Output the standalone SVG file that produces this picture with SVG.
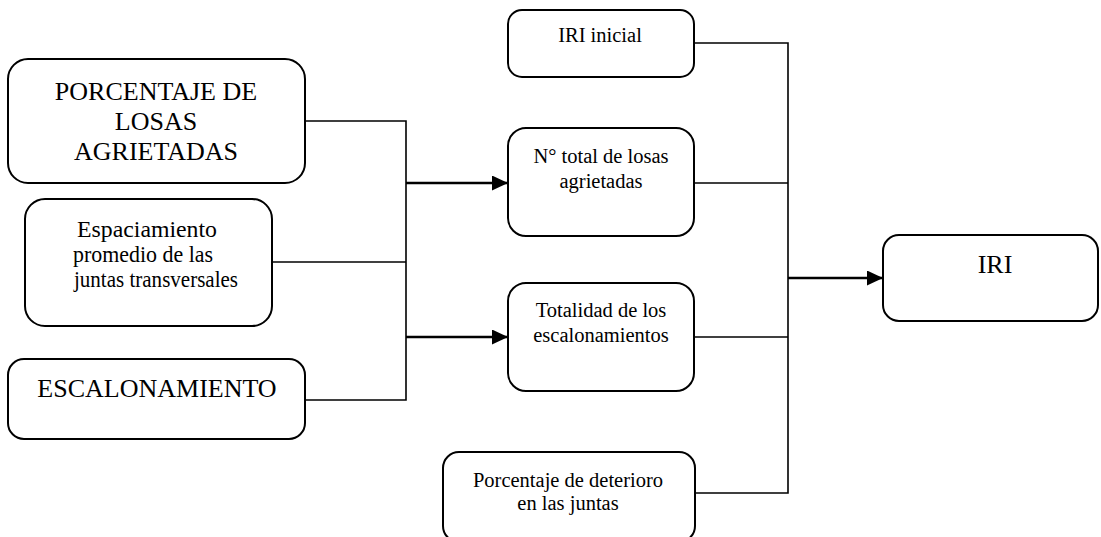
<svg xmlns="http://www.w3.org/2000/svg" width="1101" height="537" viewBox="0 0 1101 537">
  <defs>
    <marker id="arrow" markerWidth="16" markerHeight="15" refX="16" refY="7.5" orient="auto" markerUnits="userSpaceOnUse">
      <path d="M0,0 L16,7.5 L0,15 Z" fill="#000"/>
    </marker>
  </defs>
  <style>
    .box { fill: #fff; stroke: #000; stroke-width: 2; }
    .txt { fill: #000; text-anchor: middle; }
    .big { font-size: 26px; }
    .mid { font-size: 23px; }
    .sm { font-size: 20.5px; }
    .wire { fill: none; stroke: #000; stroke-width: 1.6; }
    .feed { fill: none; stroke: #000; stroke-width: 2.4; }
  </style>
  <rect width="1101" height="537" fill="#fff"/>

  <!-- connectors -->
  <g id="connectors">
    <!-- left inputs merge on x=406 -->
    <polyline class="wire" points="305,121 406,121 406,400 305,400"/>
    <line class="wire" x1="272" y1="262" x2="406" y2="262"/>
    <line class="feed" x1="406" y1="183" x2="508" y2="183" marker-end="url(#arrow)"/>
    <line class="feed" x1="406" y1="337" x2="508" y2="337" marker-end="url(#arrow)"/>
    <!-- middle column merges on x=788 -->
    <polyline class="wire" points="694,43 788,43 788,493 695,493"/>
    <line class="wire" x1="694" y1="183" x2="788" y2="183"/>
    <line class="wire" x1="694" y1="337" x2="788" y2="337"/>
    <line class="feed" x1="788" y1="278" x2="883" y2="278" marker-end="url(#arrow)"/>
  </g>

  <g font-family="'Liberation Serif', 'Times New Roman', 'DejaVu Serif', serif">
  <g id="porcentaje-losas">
    <rect class="box" x="8" y="59" width="297" height="124" rx="20"/>
    <text class="txt big" x="156" y="100">PORCENTAJE DE</text>
    <text class="txt big" x="156" y="130">LOSAS</text>
    <text class="txt big" x="156" y="160">AGRIETADAS</text>
  </g>

  <g id="espaciamiento">
    <rect class="box" x="25" y="199" width="247" height="127" rx="20"/>
    <text class="txt mid" x="147" y="237" textLength="140" lengthAdjust="spacingAndGlyphs">Espaciamiento</text>
    <text class="txt mid" x="143" y="262" textLength="140" lengthAdjust="spacingAndGlyphs">promedio de las</text>
    <text class="txt mid" x="156" y="287" textLength="164" lengthAdjust="spacingAndGlyphs">juntas transversales</text>
  </g>

  <g id="escalonamiento">
    <rect class="box" x="8" y="359" width="297" height="80" rx="16"/>
    <text class="txt big" x="157" y="397">ESCALONAMIENTO</text>
  </g>

  <g id="iri-inicial">
    <rect class="box" x="508" y="10" width="186" height="67" rx="14"/>
    <text class="txt sm" x="600" y="42">IRI inicial</text>
  </g>

  <g id="total-losas">
    <rect class="box" x="508" y="128" width="186" height="108" rx="18"/>
    <text class="txt sm" x="601" y="163">N° total de losas</text>
    <text class="txt sm" x="601" y="188">agrietadas</text>
  </g>

  <g id="escalonamientos">
    <rect class="box" x="508" y="283" width="186" height="108" rx="18"/>
    <text class="txt sm" x="601" y="317">Totalidad de los</text>
    <text class="txt sm" x="601" y="342">escalonamientos</text>
  </g>

  <g id="deterioro-juntas">
    <rect class="box" x="443" y="452" width="252" height="90" rx="16"/>
    <text class="txt sm" x="568" y="487">Porcentaje de deterioro</text>
    <text class="txt sm" x="568" y="510">en las juntas</text>
  </g>

  <g id="iri">
    <rect class="box" x="883" y="235" width="215" height="86" rx="16"/>
    <text class="txt big" x="995" y="273">IRI</text>
  </g>
  </g>
</svg>
